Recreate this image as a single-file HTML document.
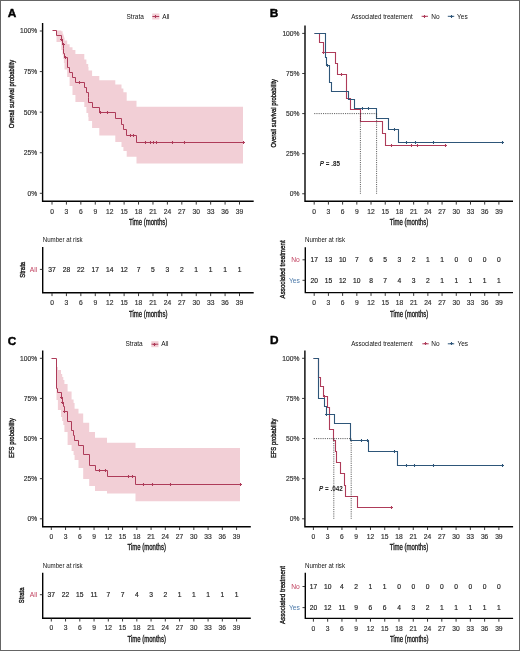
<!DOCTYPE html><html><head><meta charset="utf-8"><style>html,body{margin:0;padding:0;background:#fff;}svg{display:block;}text{font-family:"Liberation Sans", sans-serif;} .g{opacity:0.995} .t{stroke:#333;stroke-width:0.18}</style></head><body>
<svg width="520" height="651" viewBox="0 0 520 651">
<rect x="0" y="0" width="520" height="651" fill="#fff"/>
<g class="g">
<path d="M52,30.5 V30.5 H56.5 V30.5 H61.3 V31.2 H62.6 V33.8 H63.3 V35.5 H63.9 V37.6 H64.5 V40.5 H67.2 V44.3 H69.6 V47.2 H72.5 V50.1 H75.4 V54 H84.3 V59.5 H86.4 V64 H88.2 V67 H88.5 V70.5 H92.1 V75.9 H99.3 V80.2 H115.3 V84.6 H121.5 V88.5 H123.4 V92.3 H126.7 V100.8 H136.5 V106.8 H243 V163.4 H136.5 V156.8 H126.7 V151 H123.4 V147 H121.5 V142 H115.3 V135.5 H99.3 V128 H92.1 V121 H88.5 V117 H88.2 V113 H86.4 V107 H84.3 V102 H75.4 V95 H72.5 V86 H69.6 V77 H67.2 V69.5 H64.5 V63 H63.9 V59 H63.3 V55 H62.6 V50 H61.3 V42 H56.5 V30.5 H52 Z" fill="#F2CFD6" stroke="none"/>
<path d="M52.5,30.5 H56.5 V35.5 H61.5 V39.5 H62.5 V44.5 H63.5 V48.5 H63.5 V53.5 H64.5 V57.5 H67.5 V67.5 H69.5 V72.5 H72.5 V77.5 H75.5 V82.5 H84.5 V87.5 H86.5 V92.5 H88.5 V97.5 H88.5 V102.5 H92.5 V107.5 H99.5 V112.5 H115.5 V118.5 H121.5 V124.5 H123.5 V129.5 H126.5 V135.5 H136.5 V142.5 H243.5" stroke="#AE3A58" stroke-width="1" fill="none"/>
<path d="M60,39.5 h3 M61.5,38 v3" stroke="#AE3A58" stroke-width="1.05" fill="none"/>
<path d="M62,44.5 h3 M63.5,43 v3" stroke="#AE3A58" stroke-width="1.05" fill="none"/>
<path d="M64,57.5 h3 M65.5,56 v3" stroke="#AE3A58" stroke-width="1.05" fill="none"/>
<path d="M78,82.5 h3 M79.5,81 v3" stroke="#AE3A58" stroke-width="1.05" fill="none"/>
<path d="M99,112.5 h3 M100.5,111 v3" stroke="#AE3A58" stroke-width="1.05" fill="none"/>
<path d="M106,112.5 h3 M107.5,111 v3" stroke="#AE3A58" stroke-width="1.05" fill="none"/>
<path d="M129,135.5 h3 M130.5,134 v3" stroke="#AE3A58" stroke-width="1.05" fill="none"/>
<path d="M132,135.5 h3 M133.5,134 v3" stroke="#AE3A58" stroke-width="1.05" fill="none"/>
<path d="M144,142.5 h3 M145.5,141 v3" stroke="#AE3A58" stroke-width="1.05" fill="none"/>
<path d="M149,142.5 h3 M150.5,141 v3" stroke="#AE3A58" stroke-width="1.05" fill="none"/>
<path d="M152,142.5 h3 M153.5,141 v3" stroke="#AE3A58" stroke-width="1.05" fill="none"/>
<path d="M155,142.5 h3 M156.5,141 v3" stroke="#AE3A58" stroke-width="1.05" fill="none"/>
<path d="M171,142.5 h3 M172.5,141 v3" stroke="#AE3A58" stroke-width="1.05" fill="none"/>
<path d="M183,142.5 h3 M184.5,141 v3" stroke="#AE3A58" stroke-width="1.05" fill="none"/>
<path d="M242,142.5 h3 M243.5,141 v3" stroke="#AE3A58" stroke-width="1.05" fill="none"/>
<path d="M42.6,23 V201.3 H253.7" stroke="#000" stroke-width="1.4" fill="none"/>
<path d="M52,201.3 v3.3" stroke="#222" stroke-width="0.9"/>
<text x="52" y="213.9" font-size="6.7" fill="#333" text-anchor="middle" font-weight="normal" class="t">0</text>
<path d="M66.42,201.3 v3.3" stroke="#222" stroke-width="0.9"/>
<text x="66.42" y="213.9" font-size="6.7" fill="#333" text-anchor="middle" font-weight="normal" class="t">3</text>
<path d="M80.85,201.3 v3.3" stroke="#222" stroke-width="0.9"/>
<text x="80.85" y="213.9" font-size="6.7" fill="#333" text-anchor="middle" font-weight="normal" class="t">6</text>
<path d="M95.27,201.3 v3.3" stroke="#222" stroke-width="0.9"/>
<text x="95.27" y="213.9" font-size="6.7" fill="#333" text-anchor="middle" font-weight="normal" class="t">9</text>
<path d="M109.7,201.3 v3.3" stroke="#222" stroke-width="0.9"/>
<text x="109.7" y="213.9" font-size="6.7" fill="#333" text-anchor="middle" font-weight="normal" class="t">12</text>
<path d="M124.12,201.3 v3.3" stroke="#222" stroke-width="0.9"/>
<text x="124.12" y="213.9" font-size="6.7" fill="#333" text-anchor="middle" font-weight="normal" class="t">15</text>
<path d="M138.54,201.3 v3.3" stroke="#222" stroke-width="0.9"/>
<text x="138.54" y="213.9" font-size="6.7" fill="#333" text-anchor="middle" font-weight="normal" class="t">18</text>
<path d="M152.97,201.3 v3.3" stroke="#222" stroke-width="0.9"/>
<text x="152.97" y="213.9" font-size="6.7" fill="#333" text-anchor="middle" font-weight="normal" class="t">21</text>
<path d="M167.39,201.3 v3.3" stroke="#222" stroke-width="0.9"/>
<text x="167.39" y="213.9" font-size="6.7" fill="#333" text-anchor="middle" font-weight="normal" class="t">24</text>
<path d="M181.82,201.3 v3.3" stroke="#222" stroke-width="0.9"/>
<text x="181.82" y="213.9" font-size="6.7" fill="#333" text-anchor="middle" font-weight="normal" class="t">27</text>
<path d="M196.24,201.3 v3.3" stroke="#222" stroke-width="0.9"/>
<text x="196.24" y="213.9" font-size="6.7" fill="#333" text-anchor="middle" font-weight="normal" class="t">30</text>
<path d="M210.66,201.3 v3.3" stroke="#222" stroke-width="0.9"/>
<text x="210.66" y="213.9" font-size="6.7" fill="#333" text-anchor="middle" font-weight="normal" class="t">33</text>
<path d="M225.09,201.3 v3.3" stroke="#222" stroke-width="0.9"/>
<text x="225.09" y="213.9" font-size="6.7" fill="#333" text-anchor="middle" font-weight="normal" class="t">36</text>
<path d="M239.51,201.3 v3.3" stroke="#222" stroke-width="0.9"/>
<text x="239.51" y="213.9" font-size="6.7" fill="#333" text-anchor="middle" font-weight="normal" class="t">39</text>
<path d="M42.6,193.3 h-2.8" stroke="#222" stroke-width="0.9"/>
<text x="37.1" y="195.7" font-size="6.7" fill="#333" text-anchor="end" font-weight="normal" class="t">0%</text>
<path d="M42.6,152.73 h-2.8" stroke="#222" stroke-width="0.9"/>
<text x="37.1" y="155.13" font-size="6.7" fill="#333" text-anchor="end" font-weight="normal" class="t">25%</text>
<path d="M42.6,112.15 h-2.8" stroke="#222" stroke-width="0.9"/>
<text x="37.1" y="114.55" font-size="6.7" fill="#333" text-anchor="end" font-weight="normal" class="t">50%</text>
<path d="M42.6,71.58 h-2.8" stroke="#222" stroke-width="0.9"/>
<text x="37.1" y="73.98" font-size="6.7" fill="#333" text-anchor="end" font-weight="normal" class="t">75%</text>
<path d="M42.6,31 h-2.8" stroke="#222" stroke-width="0.9"/>
<text x="37.1" y="33.4" font-size="6.7" fill="#333" text-anchor="end" font-weight="normal" class="t">100%</text>
<text x="148.15" y="225.2" font-size="8.4" fill="#222" text-anchor="middle" font-weight="normal" textLength="38.4" lengthAdjust="spacingAndGlyphs" stroke="#1a1a1a" stroke-width="0.36">Time (months)</text>
<text x="0" y="0" font-size="8" fill="#1a1a1a" stroke="#1a1a1a" stroke-width="0.38" text-anchor="middle" font-weight="normal" textLength="68.3" lengthAdjust="spacingAndGlyphs" transform="translate(14.1,94) rotate(-90)">Overall survival probability</text>
<text x="7.8" y="17" font-size="11.8" fill="#000" text-anchor="start" font-weight="bold" stroke="#000" stroke-width="0.45">A</text>
<text x="126.5" y="18.9" font-size="6.5" fill="#111" text-anchor="start" font-weight="normal">Strata</text>
<rect x="152.2" y="13.5" width="7.2" height="6" fill="#F2CFD6"/>
<path d="M152.4,16.5 h6.8" stroke="#AE3A58" stroke-width="1"/>
<path d="M154,16.5 h3 M155.5,15 v3" stroke="#AE3A58" stroke-width="1.05" fill="none"/>
<text x="162.3" y="18.9" font-size="6.5" fill="#111" text-anchor="start" font-weight="normal">All</text>
<path d="M42.7,247 V292.8 H253.7" stroke="#000" stroke-width="1.4" fill="none"/>
<path d="M52,292.8 v3.3" stroke="#222" stroke-width="0.9"/>
<text x="52" y="305.2" font-size="6.7" fill="#333" text-anchor="middle" font-weight="normal" class="t">0</text>
<path d="M66.42,292.8 v3.3" stroke="#222" stroke-width="0.9"/>
<text x="66.42" y="305.2" font-size="6.7" fill="#333" text-anchor="middle" font-weight="normal" class="t">3</text>
<path d="M80.85,292.8 v3.3" stroke="#222" stroke-width="0.9"/>
<text x="80.85" y="305.2" font-size="6.7" fill="#333" text-anchor="middle" font-weight="normal" class="t">6</text>
<path d="M95.27,292.8 v3.3" stroke="#222" stroke-width="0.9"/>
<text x="95.27" y="305.2" font-size="6.7" fill="#333" text-anchor="middle" font-weight="normal" class="t">9</text>
<path d="M109.7,292.8 v3.3" stroke="#222" stroke-width="0.9"/>
<text x="109.7" y="305.2" font-size="6.7" fill="#333" text-anchor="middle" font-weight="normal" class="t">12</text>
<path d="M124.12,292.8 v3.3" stroke="#222" stroke-width="0.9"/>
<text x="124.12" y="305.2" font-size="6.7" fill="#333" text-anchor="middle" font-weight="normal" class="t">15</text>
<path d="M138.54,292.8 v3.3" stroke="#222" stroke-width="0.9"/>
<text x="138.54" y="305.2" font-size="6.7" fill="#333" text-anchor="middle" font-weight="normal" class="t">18</text>
<path d="M152.97,292.8 v3.3" stroke="#222" stroke-width="0.9"/>
<text x="152.97" y="305.2" font-size="6.7" fill="#333" text-anchor="middle" font-weight="normal" class="t">21</text>
<path d="M167.39,292.8 v3.3" stroke="#222" stroke-width="0.9"/>
<text x="167.39" y="305.2" font-size="6.7" fill="#333" text-anchor="middle" font-weight="normal" class="t">24</text>
<path d="M181.82,292.8 v3.3" stroke="#222" stroke-width="0.9"/>
<text x="181.82" y="305.2" font-size="6.7" fill="#333" text-anchor="middle" font-weight="normal" class="t">27</text>
<path d="M196.24,292.8 v3.3" stroke="#222" stroke-width="0.9"/>
<text x="196.24" y="305.2" font-size="6.7" fill="#333" text-anchor="middle" font-weight="normal" class="t">30</text>
<path d="M210.66,292.8 v3.3" stroke="#222" stroke-width="0.9"/>
<text x="210.66" y="305.2" font-size="6.7" fill="#333" text-anchor="middle" font-weight="normal" class="t">33</text>
<path d="M225.09,292.8 v3.3" stroke="#222" stroke-width="0.9"/>
<text x="225.09" y="305.2" font-size="6.7" fill="#333" text-anchor="middle" font-weight="normal" class="t">36</text>
<path d="M239.51,292.8 v3.3" stroke="#222" stroke-width="0.9"/>
<text x="239.51" y="305.2" font-size="6.7" fill="#333" text-anchor="middle" font-weight="normal" class="t">39</text>
<path d="M42.7,269.4 h-2.8" stroke="#222" stroke-width="0.9"/>
<text x="37.2" y="271.8" font-size="6.7" fill="#C0405E" text-anchor="end" font-weight="normal">All</text>
<text x="52" y="271.8" font-size="6.7" fill="#111" text-anchor="middle" font-weight="normal" class="t">37</text>
<text x="66.42" y="271.8" font-size="6.7" fill="#111" text-anchor="middle" font-weight="normal" class="t">28</text>
<text x="80.85" y="271.8" font-size="6.7" fill="#111" text-anchor="middle" font-weight="normal" class="t">22</text>
<text x="95.27" y="271.8" font-size="6.7" fill="#111" text-anchor="middle" font-weight="normal" class="t">17</text>
<text x="109.7" y="271.8" font-size="6.7" fill="#111" text-anchor="middle" font-weight="normal" class="t">14</text>
<text x="124.12" y="271.8" font-size="6.7" fill="#111" text-anchor="middle" font-weight="normal" class="t">12</text>
<text x="138.54" y="271.8" font-size="6.7" fill="#111" text-anchor="middle" font-weight="normal" class="t">7</text>
<text x="152.97" y="271.8" font-size="6.7" fill="#111" text-anchor="middle" font-weight="normal" class="t">5</text>
<text x="167.39" y="271.8" font-size="6.7" fill="#111" text-anchor="middle" font-weight="normal" class="t">3</text>
<text x="181.82" y="271.8" font-size="6.7" fill="#111" text-anchor="middle" font-weight="normal" class="t">2</text>
<text x="196.24" y="271.8" font-size="6.7" fill="#111" text-anchor="middle" font-weight="normal" class="t">1</text>
<text x="210.66" y="271.8" font-size="6.7" fill="#111" text-anchor="middle" font-weight="normal" class="t">1</text>
<text x="225.09" y="271.8" font-size="6.7" fill="#111" text-anchor="middle" font-weight="normal" class="t">1</text>
<text x="239.51" y="271.8" font-size="6.7" fill="#111" text-anchor="middle" font-weight="normal" class="t">1</text>
<text x="42.7" y="242" font-size="6.5" fill="#111" text-anchor="start" font-weight="normal" textLength="40" lengthAdjust="spacingAndGlyphs">Number at risk</text>
<text x="148.2" y="316.5" font-size="8.4" fill="#222" text-anchor="middle" font-weight="normal" textLength="38.4" lengthAdjust="spacingAndGlyphs" stroke="#1a1a1a" stroke-width="0.36">Time (months)</text>
<text x="0" y="0" font-size="8" fill="#1a1a1a" stroke="#1a1a1a" stroke-width="0.38" text-anchor="middle" font-weight="normal" textLength="16" lengthAdjust="spacingAndGlyphs" transform="translate(24.5,269.8) rotate(-90)">Strata</text>
<path d="M314.5,33.5 H319.5 V42.5 H323.5 V52.5 H335.5 V63.5 H337.5 V74.5 H346.5 V98.5 H350.5 V109.5 H360.5 V121.5 H382.5 V133.5 H385.5 V145.5 H445.5" stroke="#AE3A58" stroke-width="1.1" fill="none"/>
<path d="M314.5,33.5 H325.5 V49.5 H325.5 V57.5 H326.5 V65.5 H329.5 V82.5 H331.5 V91.5 H348.5 V99.5 H354.5 V108.5 H376.5 V118.5 H388.5 V129.5 H398.5 V142.5 H502.5" stroke="#2D5578" stroke-width="1.1" fill="none"/>
<path d="M314.2,113.6 H376.6 M360.4,113.6 V193.75 M376.6,113.6 V193.75" stroke="#333" stroke-width="0.8" stroke-dasharray="1.1,1.1" fill="none"/>
<path d="M322,52.5 h3 M323.5,51 v3" stroke="#AE3A58" stroke-width="1.05" fill="none"/>
<path d="M340,74.5 h3 M341.5,73 v3" stroke="#AE3A58" stroke-width="1.05" fill="none"/>
<path d="M390,145.5 h3 M391.5,144 v3" stroke="#AE3A58" stroke-width="1.05" fill="none"/>
<path d="M410,145.5 h3 M411.5,144 v3" stroke="#AE3A58" stroke-width="1.05" fill="none"/>
<path d="M416,145.5 h3 M417.5,144 v3" stroke="#AE3A58" stroke-width="1.05" fill="none"/>
<path d="M444,145.5 h3 M445.5,144 v3" stroke="#AE3A58" stroke-width="1.05" fill="none"/>
<path d="M326,65.5 h3 M327.5,64 v3" stroke="#2D5578" stroke-width="1.05" fill="none"/>
<path d="M361,108.5 h3 M362.5,107 v3" stroke="#2D5578" stroke-width="1.05" fill="none"/>
<path d="M367,108.5 h3 M368.5,107 v3" stroke="#2D5578" stroke-width="1.05" fill="none"/>
<path d="M393,129.5 h3 M394.5,128 v3" stroke="#2D5578" stroke-width="1.05" fill="none"/>
<path d="M405,142.5 h3 M406.5,141 v3" stroke="#2D5578" stroke-width="1.05" fill="none"/>
<path d="M414,142.5 h3 M415.5,141 v3" stroke="#2D5578" stroke-width="1.05" fill="none"/>
<path d="M432,142.5 h3 M433.5,141 v3" stroke="#2D5578" stroke-width="1.05" fill="none"/>
<path d="M501,142.5 h3 M502.5,141 v3" stroke="#2D5578" stroke-width="1.05" fill="none"/>
<path d="M305,25.6 V201.3 H513" stroke="#000" stroke-width="1.4" fill="none"/>
<path d="M314.2,201.3 v3.3" stroke="#222" stroke-width="0.9"/>
<text x="314.2" y="213.9" font-size="6.7" fill="#333" text-anchor="middle" font-weight="normal" class="t">0</text>
<path d="M328.41,201.3 v3.3" stroke="#222" stroke-width="0.9"/>
<text x="328.41" y="213.9" font-size="6.7" fill="#333" text-anchor="middle" font-weight="normal" class="t">3</text>
<path d="M342.62,201.3 v3.3" stroke="#222" stroke-width="0.9"/>
<text x="342.62" y="213.9" font-size="6.7" fill="#333" text-anchor="middle" font-weight="normal" class="t">6</text>
<path d="M356.82,201.3 v3.3" stroke="#222" stroke-width="0.9"/>
<text x="356.82" y="213.9" font-size="6.7" fill="#333" text-anchor="middle" font-weight="normal" class="t">9</text>
<path d="M371.03,201.3 v3.3" stroke="#222" stroke-width="0.9"/>
<text x="371.03" y="213.9" font-size="6.7" fill="#333" text-anchor="middle" font-weight="normal" class="t">12</text>
<path d="M385.24,201.3 v3.3" stroke="#222" stroke-width="0.9"/>
<text x="385.24" y="213.9" font-size="6.7" fill="#333" text-anchor="middle" font-weight="normal" class="t">15</text>
<path d="M399.45,201.3 v3.3" stroke="#222" stroke-width="0.9"/>
<text x="399.45" y="213.9" font-size="6.7" fill="#333" text-anchor="middle" font-weight="normal" class="t">18</text>
<path d="M413.66,201.3 v3.3" stroke="#222" stroke-width="0.9"/>
<text x="413.66" y="213.9" font-size="6.7" fill="#333" text-anchor="middle" font-weight="normal" class="t">21</text>
<path d="M427.86,201.3 v3.3" stroke="#222" stroke-width="0.9"/>
<text x="427.86" y="213.9" font-size="6.7" fill="#333" text-anchor="middle" font-weight="normal" class="t">24</text>
<path d="M442.07,201.3 v3.3" stroke="#222" stroke-width="0.9"/>
<text x="442.07" y="213.9" font-size="6.7" fill="#333" text-anchor="middle" font-weight="normal" class="t">27</text>
<path d="M456.28,201.3 v3.3" stroke="#222" stroke-width="0.9"/>
<text x="456.28" y="213.9" font-size="6.7" fill="#333" text-anchor="middle" font-weight="normal" class="t">30</text>
<path d="M470.49,201.3 v3.3" stroke="#222" stroke-width="0.9"/>
<text x="470.49" y="213.9" font-size="6.7" fill="#333" text-anchor="middle" font-weight="normal" class="t">33</text>
<path d="M484.7,201.3 v3.3" stroke="#222" stroke-width="0.9"/>
<text x="484.7" y="213.9" font-size="6.7" fill="#333" text-anchor="middle" font-weight="normal" class="t">36</text>
<path d="M498.9,201.3 v3.3" stroke="#222" stroke-width="0.9"/>
<text x="498.9" y="213.9" font-size="6.7" fill="#333" text-anchor="middle" font-weight="normal" class="t">39</text>
<path d="M305,193.75 h-2.8" stroke="#222" stroke-width="0.9"/>
<text x="299.5" y="196.15" font-size="6.7" fill="#333" text-anchor="end" font-weight="normal" class="t">0%</text>
<path d="M305,153.66 h-2.8" stroke="#222" stroke-width="0.9"/>
<text x="299.5" y="156.06" font-size="6.7" fill="#333" text-anchor="end" font-weight="normal" class="t">25%</text>
<path d="M305,113.58 h-2.8" stroke="#222" stroke-width="0.9"/>
<text x="299.5" y="115.98" font-size="6.7" fill="#333" text-anchor="end" font-weight="normal" class="t">50%</text>
<path d="M305,73.49 h-2.8" stroke="#222" stroke-width="0.9"/>
<text x="299.5" y="75.89" font-size="6.7" fill="#333" text-anchor="end" font-weight="normal" class="t">75%</text>
<path d="M305,33.4 h-2.8" stroke="#222" stroke-width="0.9"/>
<text x="299.5" y="35.8" font-size="6.7" fill="#333" text-anchor="end" font-weight="normal" class="t">100%</text>
<text x="409" y="225.2" font-size="8.4" fill="#222" text-anchor="middle" font-weight="normal" textLength="38.4" lengthAdjust="spacingAndGlyphs" stroke="#1a1a1a" stroke-width="0.36">Time (months)</text>
<text x="0" y="0" font-size="8" fill="#1a1a1a" stroke="#1a1a1a" stroke-width="0.38" text-anchor="middle" font-weight="normal" textLength="68.5" lengthAdjust="spacingAndGlyphs" transform="translate(276.4,113.25) rotate(-90)">Overall survival probability</text>
<text x="269.8" y="17.3" font-size="11.8" fill="#000" text-anchor="start" font-weight="bold" stroke="#000" stroke-width="0.45">B</text>
<text x="351.2" y="18.5" font-size="6.5" fill="#111" text-anchor="start" font-weight="normal" textLength="61.5" lengthAdjust="spacingAndGlyphs">Associated treatement</text>
<path d="M421.6,16.3 h6.4" stroke="#AE3A58" stroke-width="1"/>
<path d="M423,16.5 h3 M424.5,15 v3" stroke="#AE3A58" stroke-width="1.05" fill="none"/>
<text x="431.2" y="18.5" font-size="6.5" fill="#111" text-anchor="start" font-weight="normal">No</text>
<path d="M447.8,16.3 h6.4" stroke="#2D5578" stroke-width="1"/>
<path d="M450,16.5 h3 M451.5,15 v3" stroke="#2D5578" stroke-width="1.05" fill="none"/>
<text x="457.1" y="18.5" font-size="6.5" fill="#111" text-anchor="start" font-weight="normal">Yes</text>
<text x="319.8" y="165.6" font-size="6.3" fill="#222" text-anchor="start" font-weight="bold"><tspan font-style="italic">P</tspan> = .85</text>
<path d="M305.3,247.2 V292.6 H513" stroke="#000" stroke-width="1.4" fill="none"/>
<path d="M314.2,292.6 v3.3" stroke="#222" stroke-width="0.9"/>
<text x="314.2" y="304.6" font-size="6.7" fill="#333" text-anchor="middle" font-weight="normal" class="t">0</text>
<path d="M328.41,292.6 v3.3" stroke="#222" stroke-width="0.9"/>
<text x="328.41" y="304.6" font-size="6.7" fill="#333" text-anchor="middle" font-weight="normal" class="t">3</text>
<path d="M342.62,292.6 v3.3" stroke="#222" stroke-width="0.9"/>
<text x="342.62" y="304.6" font-size="6.7" fill="#333" text-anchor="middle" font-weight="normal" class="t">6</text>
<path d="M356.82,292.6 v3.3" stroke="#222" stroke-width="0.9"/>
<text x="356.82" y="304.6" font-size="6.7" fill="#333" text-anchor="middle" font-weight="normal" class="t">9</text>
<path d="M371.03,292.6 v3.3" stroke="#222" stroke-width="0.9"/>
<text x="371.03" y="304.6" font-size="6.7" fill="#333" text-anchor="middle" font-weight="normal" class="t">12</text>
<path d="M385.24,292.6 v3.3" stroke="#222" stroke-width="0.9"/>
<text x="385.24" y="304.6" font-size="6.7" fill="#333" text-anchor="middle" font-weight="normal" class="t">15</text>
<path d="M399.45,292.6 v3.3" stroke="#222" stroke-width="0.9"/>
<text x="399.45" y="304.6" font-size="6.7" fill="#333" text-anchor="middle" font-weight="normal" class="t">18</text>
<path d="M413.66,292.6 v3.3" stroke="#222" stroke-width="0.9"/>
<text x="413.66" y="304.6" font-size="6.7" fill="#333" text-anchor="middle" font-weight="normal" class="t">21</text>
<path d="M427.86,292.6 v3.3" stroke="#222" stroke-width="0.9"/>
<text x="427.86" y="304.6" font-size="6.7" fill="#333" text-anchor="middle" font-weight="normal" class="t">24</text>
<path d="M442.07,292.6 v3.3" stroke="#222" stroke-width="0.9"/>
<text x="442.07" y="304.6" font-size="6.7" fill="#333" text-anchor="middle" font-weight="normal" class="t">27</text>
<path d="M456.28,292.6 v3.3" stroke="#222" stroke-width="0.9"/>
<text x="456.28" y="304.6" font-size="6.7" fill="#333" text-anchor="middle" font-weight="normal" class="t">30</text>
<path d="M470.49,292.6 v3.3" stroke="#222" stroke-width="0.9"/>
<text x="470.49" y="304.6" font-size="6.7" fill="#333" text-anchor="middle" font-weight="normal" class="t">33</text>
<path d="M484.7,292.6 v3.3" stroke="#222" stroke-width="0.9"/>
<text x="484.7" y="304.6" font-size="6.7" fill="#333" text-anchor="middle" font-weight="normal" class="t">36</text>
<path d="M498.9,292.6 v3.3" stroke="#222" stroke-width="0.9"/>
<text x="498.9" y="304.6" font-size="6.7" fill="#333" text-anchor="middle" font-weight="normal" class="t">39</text>
<path d="M305.3,259.8 h-2.8" stroke="#222" stroke-width="0.9"/>
<text x="299.8" y="262.2" font-size="6.7" fill="#C0405E" text-anchor="end" font-weight="normal">No</text>
<text x="314.2" y="262.2" font-size="6.7" fill="#111" text-anchor="middle" font-weight="normal" class="t">17</text>
<text x="328.41" y="262.2" font-size="6.7" fill="#111" text-anchor="middle" font-weight="normal" class="t">13</text>
<text x="342.62" y="262.2" font-size="6.7" fill="#111" text-anchor="middle" font-weight="normal" class="t">10</text>
<text x="356.82" y="262.2" font-size="6.7" fill="#111" text-anchor="middle" font-weight="normal" class="t">7</text>
<text x="371.03" y="262.2" font-size="6.7" fill="#111" text-anchor="middle" font-weight="normal" class="t">6</text>
<text x="385.24" y="262.2" font-size="6.7" fill="#111" text-anchor="middle" font-weight="normal" class="t">5</text>
<text x="399.45" y="262.2" font-size="6.7" fill="#111" text-anchor="middle" font-weight="normal" class="t">3</text>
<text x="413.66" y="262.2" font-size="6.7" fill="#111" text-anchor="middle" font-weight="normal" class="t">2</text>
<text x="427.86" y="262.2" font-size="6.7" fill="#111" text-anchor="middle" font-weight="normal" class="t">1</text>
<text x="442.07" y="262.2" font-size="6.7" fill="#111" text-anchor="middle" font-weight="normal" class="t">1</text>
<text x="456.28" y="262.2" font-size="6.7" fill="#111" text-anchor="middle" font-weight="normal" class="t">0</text>
<text x="470.49" y="262.2" font-size="6.7" fill="#111" text-anchor="middle" font-weight="normal" class="t">0</text>
<text x="484.7" y="262.2" font-size="6.7" fill="#111" text-anchor="middle" font-weight="normal" class="t">0</text>
<text x="498.9" y="262.2" font-size="6.7" fill="#111" text-anchor="middle" font-weight="normal" class="t">0</text>
<path d="M305.3,280.3 h-2.8" stroke="#222" stroke-width="0.9"/>
<text x="299.8" y="282.7" font-size="6.7" fill="#4A78A8" text-anchor="end" font-weight="normal">Yes</text>
<text x="314.2" y="282.7" font-size="6.7" fill="#111" text-anchor="middle" font-weight="normal" class="t">20</text>
<text x="328.41" y="282.7" font-size="6.7" fill="#111" text-anchor="middle" font-weight="normal" class="t">15</text>
<text x="342.62" y="282.7" font-size="6.7" fill="#111" text-anchor="middle" font-weight="normal" class="t">12</text>
<text x="356.82" y="282.7" font-size="6.7" fill="#111" text-anchor="middle" font-weight="normal" class="t">10</text>
<text x="371.03" y="282.7" font-size="6.7" fill="#111" text-anchor="middle" font-weight="normal" class="t">8</text>
<text x="385.24" y="282.7" font-size="6.7" fill="#111" text-anchor="middle" font-weight="normal" class="t">7</text>
<text x="399.45" y="282.7" font-size="6.7" fill="#111" text-anchor="middle" font-weight="normal" class="t">4</text>
<text x="413.66" y="282.7" font-size="6.7" fill="#111" text-anchor="middle" font-weight="normal" class="t">3</text>
<text x="427.86" y="282.7" font-size="6.7" fill="#111" text-anchor="middle" font-weight="normal" class="t">2</text>
<text x="442.07" y="282.7" font-size="6.7" fill="#111" text-anchor="middle" font-weight="normal" class="t">1</text>
<text x="456.28" y="282.7" font-size="6.7" fill="#111" text-anchor="middle" font-weight="normal" class="t">1</text>
<text x="470.49" y="282.7" font-size="6.7" fill="#111" text-anchor="middle" font-weight="normal" class="t">1</text>
<text x="484.7" y="282.7" font-size="6.7" fill="#111" text-anchor="middle" font-weight="normal" class="t">1</text>
<text x="498.9" y="282.7" font-size="6.7" fill="#111" text-anchor="middle" font-weight="normal" class="t">1</text>
<text x="305" y="242.3" font-size="6.5" fill="#111" text-anchor="start" font-weight="normal" textLength="40" lengthAdjust="spacingAndGlyphs">Number at risk</text>
<text x="409.15" y="316.5" font-size="8.4" fill="#222" text-anchor="middle" font-weight="normal" textLength="38.4" lengthAdjust="spacingAndGlyphs" stroke="#1a1a1a" stroke-width="0.36">Time (months)</text>
<text x="0" y="0" font-size="8" fill="#1a1a1a" stroke="#1a1a1a" stroke-width="0.38" text-anchor="middle" font-weight="normal" textLength="58" lengthAdjust="spacingAndGlyphs" transform="translate(284.5,269.4) rotate(-90)">Associated treatment</text>
<path d="M51.4,358.3 V358.3 H56.5 V367 H57.9 V370 H61 V374 H62.2 V377 H63.3 V380 H64.4 V384 H67.6 V391.5 H71.6 V399.6 H73.6 V403 H74.6 V408.8 H78.5 V413.5 H83.2 V422.7 H89.2 V431.9 H95 V437.7 H107 V442.8 H135.5 V448 H240 V501.3 H135.5 V493.5 H107 V491 H95 V486 H89.2 V479 H83.2 V468 H78.5 V460 H74.6 V455 H73.6 V451 H71.6 V445 H67.6 V432 H64.4 V425 H63.3 V421 H62.2 V417 H61 V410 H57.9 V400 H56.5 V358.3 H51.4 Z" fill="#F2CFD6" stroke="none"/>
<path d="M51.5,358.5 H56.5 V388.5 H57.5 V392.5 H61.5 V397.5 H62.5 V402.5 H63.5 V406.5 H64.5 V411.5 H67.5 V421.5 H71.5 V430.5 H73.5 V435.5 H74.5 V440.5 H78.5 V445.5 H83.5 V454.5 H89.5 V465.5 H95.5 V470.5 H107.5 V476.5 H135.5 V484.5 H240.5" stroke="#AE3A58" stroke-width="1" fill="none"/>
<path d="M60,397.5 h3 M61.5,396 v3" stroke="#AE3A58" stroke-width="1.05" fill="none"/>
<path d="M61,402.5 h3 M62.5,401 v3" stroke="#AE3A58" stroke-width="1.05" fill="none"/>
<path d="M63,411.5 h3 M64.5,410 v3" stroke="#AE3A58" stroke-width="1.05" fill="none"/>
<path d="M98,470.5 h3 M99.5,469 v3" stroke="#AE3A58" stroke-width="1.05" fill="none"/>
<path d="M104,470.5 h3 M105.5,469 v3" stroke="#AE3A58" stroke-width="1.05" fill="none"/>
<path d="M127,476.5 h3 M128.5,475 v3" stroke="#AE3A58" stroke-width="1.05" fill="none"/>
<path d="M131,476.5 h3 M132.5,475 v3" stroke="#AE3A58" stroke-width="1.05" fill="none"/>
<path d="M142,484.5 h3 M143.5,483 v3" stroke="#AE3A58" stroke-width="1.05" fill="none"/>
<path d="M151,484.5 h3 M152.5,483 v3" stroke="#AE3A58" stroke-width="1.05" fill="none"/>
<path d="M169,484.5 h3 M170.5,483 v3" stroke="#AE3A58" stroke-width="1.05" fill="none"/>
<path d="M239,484.5 h3 M240.5,483 v3" stroke="#AE3A58" stroke-width="1.05" fill="none"/>
<path d="M42.7,350.5 V526.7 H250.8" stroke="#000" stroke-width="1.4" fill="none"/>
<path d="M51.3,526.7 v3.3" stroke="#222" stroke-width="0.9"/>
<text x="51.3" y="538.6" font-size="6.7" fill="#333" text-anchor="middle" font-weight="normal" class="t">0</text>
<path d="M65.55,526.7 v3.3" stroke="#222" stroke-width="0.9"/>
<text x="65.55" y="538.6" font-size="6.7" fill="#333" text-anchor="middle" font-weight="normal" class="t">3</text>
<path d="M79.81,526.7 v3.3" stroke="#222" stroke-width="0.9"/>
<text x="79.81" y="538.6" font-size="6.7" fill="#333" text-anchor="middle" font-weight="normal" class="t">6</text>
<path d="M94.06,526.7 v3.3" stroke="#222" stroke-width="0.9"/>
<text x="94.06" y="538.6" font-size="6.7" fill="#333" text-anchor="middle" font-weight="normal" class="t">9</text>
<path d="M108.31,526.7 v3.3" stroke="#222" stroke-width="0.9"/>
<text x="108.31" y="538.6" font-size="6.7" fill="#333" text-anchor="middle" font-weight="normal" class="t">12</text>
<path d="M122.56,526.7 v3.3" stroke="#222" stroke-width="0.9"/>
<text x="122.56" y="538.6" font-size="6.7" fill="#333" text-anchor="middle" font-weight="normal" class="t">15</text>
<path d="M136.82,526.7 v3.3" stroke="#222" stroke-width="0.9"/>
<text x="136.82" y="538.6" font-size="6.7" fill="#333" text-anchor="middle" font-weight="normal" class="t">18</text>
<path d="M151.07,526.7 v3.3" stroke="#222" stroke-width="0.9"/>
<text x="151.07" y="538.6" font-size="6.7" fill="#333" text-anchor="middle" font-weight="normal" class="t">21</text>
<path d="M165.32,526.7 v3.3" stroke="#222" stroke-width="0.9"/>
<text x="165.32" y="538.6" font-size="6.7" fill="#333" text-anchor="middle" font-weight="normal" class="t">24</text>
<path d="M179.58,526.7 v3.3" stroke="#222" stroke-width="0.9"/>
<text x="179.58" y="538.6" font-size="6.7" fill="#333" text-anchor="middle" font-weight="normal" class="t">27</text>
<path d="M193.83,526.7 v3.3" stroke="#222" stroke-width="0.9"/>
<text x="193.83" y="538.6" font-size="6.7" fill="#333" text-anchor="middle" font-weight="normal" class="t">30</text>
<path d="M208.08,526.7 v3.3" stroke="#222" stroke-width="0.9"/>
<text x="208.08" y="538.6" font-size="6.7" fill="#333" text-anchor="middle" font-weight="normal" class="t">33</text>
<path d="M222.34,526.7 v3.3" stroke="#222" stroke-width="0.9"/>
<text x="222.34" y="538.6" font-size="6.7" fill="#333" text-anchor="middle" font-weight="normal" class="t">36</text>
<path d="M236.59,526.7 v3.3" stroke="#222" stroke-width="0.9"/>
<text x="236.59" y="538.6" font-size="6.7" fill="#333" text-anchor="middle" font-weight="normal" class="t">39</text>
<path d="M42.7,518.8 h-2.8" stroke="#222" stroke-width="0.9"/>
<text x="37.2" y="521.2" font-size="6.7" fill="#333" text-anchor="end" font-weight="normal" class="t">0%</text>
<path d="M42.7,478.67 h-2.8" stroke="#222" stroke-width="0.9"/>
<text x="37.2" y="481.07" font-size="6.7" fill="#333" text-anchor="end" font-weight="normal" class="t">25%</text>
<path d="M42.7,438.55 h-2.8" stroke="#222" stroke-width="0.9"/>
<text x="37.2" y="440.95" font-size="6.7" fill="#333" text-anchor="end" font-weight="normal" class="t">50%</text>
<path d="M42.7,398.43 h-2.8" stroke="#222" stroke-width="0.9"/>
<text x="37.2" y="400.82" font-size="6.7" fill="#333" text-anchor="end" font-weight="normal" class="t">75%</text>
<path d="M42.7,358.3 h-2.8" stroke="#222" stroke-width="0.9"/>
<text x="37.2" y="360.7" font-size="6.7" fill="#333" text-anchor="end" font-weight="normal" class="t">100%</text>
<text x="146.75" y="550.4" font-size="8.4" fill="#222" text-anchor="middle" font-weight="normal" textLength="38.4" lengthAdjust="spacingAndGlyphs" stroke="#1a1a1a" stroke-width="0.36">Time (months)</text>
<text x="0" y="0" font-size="8" fill="#1a1a1a" stroke="#1a1a1a" stroke-width="0.38" text-anchor="middle" font-weight="normal" textLength="39.8" lengthAdjust="spacingAndGlyphs" transform="translate(14,438) rotate(-90)">EFS probability</text>
<text x="7.8" y="344.5" font-size="11.8" fill="#000" text-anchor="start" font-weight="bold" stroke="#000" stroke-width="0.45">C</text>
<text x="125.4" y="346.3" font-size="6.5" fill="#111" text-anchor="start" font-weight="normal">Strata</text>
<rect x="151.3" y="341.2" width="7.2" height="6" fill="#F2CFD6"/>
<path d="M151.5,344.2 h6.8" stroke="#AE3A58" stroke-width="1"/>
<path d="M153,344.5 h3 M154.5,343 v3" stroke="#AE3A58" stroke-width="1.05" fill="none"/>
<text x="161.2" y="346.3" font-size="6.5" fill="#111" text-anchor="start" font-weight="normal">All</text>
<path d="M42.7,572.7 V618.2 H250.8" stroke="#000" stroke-width="1.4" fill="none"/>
<path d="M51.3,618.2 v3.3" stroke="#222" stroke-width="0.9"/>
<text x="51.3" y="629.6" font-size="6.7" fill="#333" text-anchor="middle" font-weight="normal" class="t">0</text>
<path d="M65.55,618.2 v3.3" stroke="#222" stroke-width="0.9"/>
<text x="65.55" y="629.6" font-size="6.7" fill="#333" text-anchor="middle" font-weight="normal" class="t">3</text>
<path d="M79.81,618.2 v3.3" stroke="#222" stroke-width="0.9"/>
<text x="79.81" y="629.6" font-size="6.7" fill="#333" text-anchor="middle" font-weight="normal" class="t">6</text>
<path d="M94.06,618.2 v3.3" stroke="#222" stroke-width="0.9"/>
<text x="94.06" y="629.6" font-size="6.7" fill="#333" text-anchor="middle" font-weight="normal" class="t">9</text>
<path d="M108.31,618.2 v3.3" stroke="#222" stroke-width="0.9"/>
<text x="108.31" y="629.6" font-size="6.7" fill="#333" text-anchor="middle" font-weight="normal" class="t">12</text>
<path d="M122.56,618.2 v3.3" stroke="#222" stroke-width="0.9"/>
<text x="122.56" y="629.6" font-size="6.7" fill="#333" text-anchor="middle" font-weight="normal" class="t">15</text>
<path d="M136.82,618.2 v3.3" stroke="#222" stroke-width="0.9"/>
<text x="136.82" y="629.6" font-size="6.7" fill="#333" text-anchor="middle" font-weight="normal" class="t">18</text>
<path d="M151.07,618.2 v3.3" stroke="#222" stroke-width="0.9"/>
<text x="151.07" y="629.6" font-size="6.7" fill="#333" text-anchor="middle" font-weight="normal" class="t">21</text>
<path d="M165.32,618.2 v3.3" stroke="#222" stroke-width="0.9"/>
<text x="165.32" y="629.6" font-size="6.7" fill="#333" text-anchor="middle" font-weight="normal" class="t">24</text>
<path d="M179.58,618.2 v3.3" stroke="#222" stroke-width="0.9"/>
<text x="179.58" y="629.6" font-size="6.7" fill="#333" text-anchor="middle" font-weight="normal" class="t">27</text>
<path d="M193.83,618.2 v3.3" stroke="#222" stroke-width="0.9"/>
<text x="193.83" y="629.6" font-size="6.7" fill="#333" text-anchor="middle" font-weight="normal" class="t">30</text>
<path d="M208.08,618.2 v3.3" stroke="#222" stroke-width="0.9"/>
<text x="208.08" y="629.6" font-size="6.7" fill="#333" text-anchor="middle" font-weight="normal" class="t">33</text>
<path d="M222.34,618.2 v3.3" stroke="#222" stroke-width="0.9"/>
<text x="222.34" y="629.6" font-size="6.7" fill="#333" text-anchor="middle" font-weight="normal" class="t">36</text>
<path d="M236.59,618.2 v3.3" stroke="#222" stroke-width="0.9"/>
<text x="236.59" y="629.6" font-size="6.7" fill="#333" text-anchor="middle" font-weight="normal" class="t">39</text>
<path d="M42.7,594.7 h-2.8" stroke="#222" stroke-width="0.9"/>
<text x="37.2" y="597.1" font-size="6.7" fill="#C0405E" text-anchor="end" font-weight="normal">All</text>
<text x="51.3" y="597.1" font-size="6.7" fill="#111" text-anchor="middle" font-weight="normal" class="t">37</text>
<text x="65.55" y="597.1" font-size="6.7" fill="#111" text-anchor="middle" font-weight="normal" class="t">22</text>
<text x="79.81" y="597.1" font-size="6.7" fill="#111" text-anchor="middle" font-weight="normal" class="t">15</text>
<text x="94.06" y="597.1" font-size="6.7" fill="#111" text-anchor="middle" font-weight="normal" class="t">11</text>
<text x="108.31" y="597.1" font-size="6.7" fill="#111" text-anchor="middle" font-weight="normal" class="t">7</text>
<text x="122.56" y="597.1" font-size="6.7" fill="#111" text-anchor="middle" font-weight="normal" class="t">7</text>
<text x="136.82" y="597.1" font-size="6.7" fill="#111" text-anchor="middle" font-weight="normal" class="t">4</text>
<text x="151.07" y="597.1" font-size="6.7" fill="#111" text-anchor="middle" font-weight="normal" class="t">3</text>
<text x="165.32" y="597.1" font-size="6.7" fill="#111" text-anchor="middle" font-weight="normal" class="t">2</text>
<text x="179.58" y="597.1" font-size="6.7" fill="#111" text-anchor="middle" font-weight="normal" class="t">1</text>
<text x="193.83" y="597.1" font-size="6.7" fill="#111" text-anchor="middle" font-weight="normal" class="t">1</text>
<text x="208.08" y="597.1" font-size="6.7" fill="#111" text-anchor="middle" font-weight="normal" class="t">1</text>
<text x="222.34" y="597.1" font-size="6.7" fill="#111" text-anchor="middle" font-weight="normal" class="t">1</text>
<text x="236.59" y="597.1" font-size="6.7" fill="#111" text-anchor="middle" font-weight="normal" class="t">1</text>
<text x="42.7" y="567.8" font-size="6.5" fill="#111" text-anchor="start" font-weight="normal" textLength="40" lengthAdjust="spacingAndGlyphs">Number at risk</text>
<text x="146.75" y="641.6" font-size="8.4" fill="#222" text-anchor="middle" font-weight="normal" textLength="38.4" lengthAdjust="spacingAndGlyphs" stroke="#1a1a1a" stroke-width="0.36">Time (months)</text>
<text x="0" y="0" font-size="8" fill="#1a1a1a" stroke="#1a1a1a" stroke-width="0.38" text-anchor="middle" font-weight="normal" textLength="15.6" lengthAdjust="spacingAndGlyphs" transform="translate(24.3,595.4) rotate(-90)">Strata</text>
<path d="M313.5,358.5 H318.5 V377.5 H320.5 V386.5 H323.5 V396.5 H327.5 V407.5 H329.5 V429.5 H333.5 V440.5 H335.5 V451.5 H336.5 V462.5 H340.5 V473.5 H344.5 V485.5 H345.5 V496.5 H357.5 V507.5 H391.5" stroke="#AE3A58" stroke-width="1.1" fill="none"/>
<path d="M313.5,358.5 H318.5 V398.5 H324.5 V406.5 H326.5 V414.5 H334.5 V423.5 H350.5 V440.5 H368.5 V451.5 H397.5 V465.5 H502.5" stroke="#2D5578" stroke-width="1.1" fill="none"/>
<path d="M313.8,438.6 H351.2 M333.8,438.6 V518.8 M351.2,438.6 V518.8" stroke="#333" stroke-width="0.8" stroke-dasharray="1.1,1.1" fill="none"/>
<path d="M323,396.5 h3 M324.5,395 v3" stroke="#AE3A58" stroke-width="1.05" fill="none"/>
<path d="M390,507.5 h3 M391.5,506 v3" stroke="#AE3A58" stroke-width="1.05" fill="none"/>
<path d="M325,414.5 h3 M326.5,413 v3" stroke="#2D5578" stroke-width="1.05" fill="none"/>
<path d="M360,440.5 h3 M361.5,439 v3" stroke="#2D5578" stroke-width="1.05" fill="none"/>
<path d="M366,440.5 h3 M367.5,439 v3" stroke="#2D5578" stroke-width="1.05" fill="none"/>
<path d="M393,451.5 h3 M394.5,450 v3" stroke="#2D5578" stroke-width="1.05" fill="none"/>
<path d="M405,465.5 h3 M406.5,464 v3" stroke="#2D5578" stroke-width="1.05" fill="none"/>
<path d="M413,465.5 h3 M414.5,464 v3" stroke="#2D5578" stroke-width="1.05" fill="none"/>
<path d="M432,465.5 h3 M433.5,464 v3" stroke="#2D5578" stroke-width="1.05" fill="none"/>
<path d="M501,465.5 h3 M502.5,464 v3" stroke="#2D5578" stroke-width="1.05" fill="none"/>
<path d="M304.9,350.5 V526.7 H513.1" stroke="#000" stroke-width="1.4" fill="none"/>
<path d="M313.4,526.7 v3.3" stroke="#222" stroke-width="0.9"/>
<text x="313.4" y="538.6" font-size="6.7" fill="#333" text-anchor="middle" font-weight="normal" class="t">0</text>
<path d="M327.67,526.7 v3.3" stroke="#222" stroke-width="0.9"/>
<text x="327.67" y="538.6" font-size="6.7" fill="#333" text-anchor="middle" font-weight="normal" class="t">3</text>
<path d="M341.94,526.7 v3.3" stroke="#222" stroke-width="0.9"/>
<text x="341.94" y="538.6" font-size="6.7" fill="#333" text-anchor="middle" font-weight="normal" class="t">6</text>
<path d="M356.2,526.7 v3.3" stroke="#222" stroke-width="0.9"/>
<text x="356.2" y="538.6" font-size="6.7" fill="#333" text-anchor="middle" font-weight="normal" class="t">9</text>
<path d="M370.47,526.7 v3.3" stroke="#222" stroke-width="0.9"/>
<text x="370.47" y="538.6" font-size="6.7" fill="#333" text-anchor="middle" font-weight="normal" class="t">12</text>
<path d="M384.74,526.7 v3.3" stroke="#222" stroke-width="0.9"/>
<text x="384.74" y="538.6" font-size="6.7" fill="#333" text-anchor="middle" font-weight="normal" class="t">15</text>
<path d="M399.01,526.7 v3.3" stroke="#222" stroke-width="0.9"/>
<text x="399.01" y="538.6" font-size="6.7" fill="#333" text-anchor="middle" font-weight="normal" class="t">18</text>
<path d="M413.28,526.7 v3.3" stroke="#222" stroke-width="0.9"/>
<text x="413.28" y="538.6" font-size="6.7" fill="#333" text-anchor="middle" font-weight="normal" class="t">21</text>
<path d="M427.54,526.7 v3.3" stroke="#222" stroke-width="0.9"/>
<text x="427.54" y="538.6" font-size="6.7" fill="#333" text-anchor="middle" font-weight="normal" class="t">24</text>
<path d="M441.81,526.7 v3.3" stroke="#222" stroke-width="0.9"/>
<text x="441.81" y="538.6" font-size="6.7" fill="#333" text-anchor="middle" font-weight="normal" class="t">27</text>
<path d="M456.08,526.7 v3.3" stroke="#222" stroke-width="0.9"/>
<text x="456.08" y="538.6" font-size="6.7" fill="#333" text-anchor="middle" font-weight="normal" class="t">30</text>
<path d="M470.35,526.7 v3.3" stroke="#222" stroke-width="0.9"/>
<text x="470.35" y="538.6" font-size="6.7" fill="#333" text-anchor="middle" font-weight="normal" class="t">33</text>
<path d="M484.62,526.7 v3.3" stroke="#222" stroke-width="0.9"/>
<text x="484.62" y="538.6" font-size="6.7" fill="#333" text-anchor="middle" font-weight="normal" class="t">36</text>
<path d="M498.88,526.7 v3.3" stroke="#222" stroke-width="0.9"/>
<text x="498.88" y="538.6" font-size="6.7" fill="#333" text-anchor="middle" font-weight="normal" class="t">39</text>
<path d="M304.9,518.8 h-2.8" stroke="#222" stroke-width="0.9"/>
<text x="299.4" y="521.2" font-size="6.7" fill="#333" text-anchor="end" font-weight="normal" class="t">0%</text>
<path d="M304.9,478.67 h-2.8" stroke="#222" stroke-width="0.9"/>
<text x="299.4" y="481.07" font-size="6.7" fill="#333" text-anchor="end" font-weight="normal" class="t">25%</text>
<path d="M304.9,438.55 h-2.8" stroke="#222" stroke-width="0.9"/>
<text x="299.4" y="440.95" font-size="6.7" fill="#333" text-anchor="end" font-weight="normal" class="t">50%</text>
<path d="M304.9,398.43 h-2.8" stroke="#222" stroke-width="0.9"/>
<text x="299.4" y="400.82" font-size="6.7" fill="#333" text-anchor="end" font-weight="normal" class="t">75%</text>
<path d="M304.9,358.3 h-2.8" stroke="#222" stroke-width="0.9"/>
<text x="299.4" y="360.7" font-size="6.7" fill="#333" text-anchor="end" font-weight="normal" class="t">100%</text>
<text x="409" y="550.4" font-size="8.4" fill="#222" text-anchor="middle" font-weight="normal" textLength="38.4" lengthAdjust="spacingAndGlyphs" stroke="#1a1a1a" stroke-width="0.36">Time (months)</text>
<text x="0" y="0" font-size="8" fill="#1a1a1a" stroke="#1a1a1a" stroke-width="0.38" text-anchor="middle" font-weight="normal" textLength="39.6" lengthAdjust="spacingAndGlyphs" transform="translate(276.4,438.3) rotate(-90)">EFS probability</text>
<text x="269.9" y="344.3" font-size="11.8" fill="#000" text-anchor="start" font-weight="bold" stroke="#000" stroke-width="0.45">D</text>
<text x="351.2" y="346" font-size="6.5" fill="#111" text-anchor="start" font-weight="normal" textLength="61.5" lengthAdjust="spacingAndGlyphs">Associated treatement</text>
<path d="M422.3,343.8 h6.4" stroke="#AE3A58" stroke-width="1"/>
<path d="M424,343.5 h3 M425.5,342 v3" stroke="#AE3A58" stroke-width="1.05" fill="none"/>
<text x="431.2" y="346" font-size="6.5" fill="#111" text-anchor="start" font-weight="normal">No</text>
<path d="M447.8,343.8 h6.4" stroke="#2D5578" stroke-width="1"/>
<path d="M450,343.5 h3 M451.5,342 v3" stroke="#2D5578" stroke-width="1.05" fill="none"/>
<text x="457.5" y="346" font-size="6.5" fill="#111" text-anchor="start" font-weight="normal">Yes</text>
<text x="319" y="490.6" font-size="6.3" fill="#222" text-anchor="start" font-weight="bold"><tspan font-style="italic">P</tspan> = .042</text>
<path d="M305.3,572.7 V618.4 H513.1" stroke="#000" stroke-width="1.4" fill="none"/>
<path d="M313.4,618.4 v3.3" stroke="#222" stroke-width="0.9"/>
<text x="313.4" y="631.1" font-size="6.7" fill="#333" text-anchor="middle" font-weight="normal" class="t">0</text>
<path d="M327.67,618.4 v3.3" stroke="#222" stroke-width="0.9"/>
<text x="327.67" y="631.1" font-size="6.7" fill="#333" text-anchor="middle" font-weight="normal" class="t">3</text>
<path d="M341.94,618.4 v3.3" stroke="#222" stroke-width="0.9"/>
<text x="341.94" y="631.1" font-size="6.7" fill="#333" text-anchor="middle" font-weight="normal" class="t">6</text>
<path d="M356.2,618.4 v3.3" stroke="#222" stroke-width="0.9"/>
<text x="356.2" y="631.1" font-size="6.7" fill="#333" text-anchor="middle" font-weight="normal" class="t">9</text>
<path d="M370.47,618.4 v3.3" stroke="#222" stroke-width="0.9"/>
<text x="370.47" y="631.1" font-size="6.7" fill="#333" text-anchor="middle" font-weight="normal" class="t">12</text>
<path d="M384.74,618.4 v3.3" stroke="#222" stroke-width="0.9"/>
<text x="384.74" y="631.1" font-size="6.7" fill="#333" text-anchor="middle" font-weight="normal" class="t">15</text>
<path d="M399.01,618.4 v3.3" stroke="#222" stroke-width="0.9"/>
<text x="399.01" y="631.1" font-size="6.7" fill="#333" text-anchor="middle" font-weight="normal" class="t">18</text>
<path d="M413.28,618.4 v3.3" stroke="#222" stroke-width="0.9"/>
<text x="413.28" y="631.1" font-size="6.7" fill="#333" text-anchor="middle" font-weight="normal" class="t">21</text>
<path d="M427.54,618.4 v3.3" stroke="#222" stroke-width="0.9"/>
<text x="427.54" y="631.1" font-size="6.7" fill="#333" text-anchor="middle" font-weight="normal" class="t">24</text>
<path d="M441.81,618.4 v3.3" stroke="#222" stroke-width="0.9"/>
<text x="441.81" y="631.1" font-size="6.7" fill="#333" text-anchor="middle" font-weight="normal" class="t">27</text>
<path d="M456.08,618.4 v3.3" stroke="#222" stroke-width="0.9"/>
<text x="456.08" y="631.1" font-size="6.7" fill="#333" text-anchor="middle" font-weight="normal" class="t">30</text>
<path d="M470.35,618.4 v3.3" stroke="#222" stroke-width="0.9"/>
<text x="470.35" y="631.1" font-size="6.7" fill="#333" text-anchor="middle" font-weight="normal" class="t">33</text>
<path d="M484.62,618.4 v3.3" stroke="#222" stroke-width="0.9"/>
<text x="484.62" y="631.1" font-size="6.7" fill="#333" text-anchor="middle" font-weight="normal" class="t">36</text>
<path d="M498.88,618.4 v3.3" stroke="#222" stroke-width="0.9"/>
<text x="498.88" y="631.1" font-size="6.7" fill="#333" text-anchor="middle" font-weight="normal" class="t">39</text>
<path d="M305.3,586.5 h-2.8" stroke="#222" stroke-width="0.9"/>
<text x="299.8" y="588.9" font-size="6.7" fill="#C0405E" text-anchor="end" font-weight="normal">No</text>
<text x="313.4" y="588.9" font-size="6.7" fill="#111" text-anchor="middle" font-weight="normal" class="t">17</text>
<text x="327.67" y="588.9" font-size="6.7" fill="#111" text-anchor="middle" font-weight="normal" class="t">10</text>
<text x="341.94" y="588.9" font-size="6.7" fill="#111" text-anchor="middle" font-weight="normal" class="t">4</text>
<text x="356.2" y="588.9" font-size="6.7" fill="#111" text-anchor="middle" font-weight="normal" class="t">2</text>
<text x="370.47" y="588.9" font-size="6.7" fill="#111" text-anchor="middle" font-weight="normal" class="t">1</text>
<text x="384.74" y="588.9" font-size="6.7" fill="#111" text-anchor="middle" font-weight="normal" class="t">1</text>
<text x="399.01" y="588.9" font-size="6.7" fill="#111" text-anchor="middle" font-weight="normal" class="t">0</text>
<text x="413.28" y="588.9" font-size="6.7" fill="#111" text-anchor="middle" font-weight="normal" class="t">0</text>
<text x="427.54" y="588.9" font-size="6.7" fill="#111" text-anchor="middle" font-weight="normal" class="t">0</text>
<text x="441.81" y="588.9" font-size="6.7" fill="#111" text-anchor="middle" font-weight="normal" class="t">0</text>
<text x="456.08" y="588.9" font-size="6.7" fill="#111" text-anchor="middle" font-weight="normal" class="t">0</text>
<text x="470.35" y="588.9" font-size="6.7" fill="#111" text-anchor="middle" font-weight="normal" class="t">0</text>
<text x="484.62" y="588.9" font-size="6.7" fill="#111" text-anchor="middle" font-weight="normal" class="t">0</text>
<text x="498.88" y="588.9" font-size="6.7" fill="#111" text-anchor="middle" font-weight="normal" class="t">0</text>
<path d="M305.3,607.6 h-2.8" stroke="#222" stroke-width="0.9"/>
<text x="299.8" y="610" font-size="6.7" fill="#4A78A8" text-anchor="end" font-weight="normal">Yes</text>
<text x="313.4" y="610" font-size="6.7" fill="#111" text-anchor="middle" font-weight="normal" class="t">20</text>
<text x="327.67" y="610" font-size="6.7" fill="#111" text-anchor="middle" font-weight="normal" class="t">12</text>
<text x="341.94" y="610" font-size="6.7" fill="#111" text-anchor="middle" font-weight="normal" class="t">11</text>
<text x="356.2" y="610" font-size="6.7" fill="#111" text-anchor="middle" font-weight="normal" class="t">9</text>
<text x="370.47" y="610" font-size="6.7" fill="#111" text-anchor="middle" font-weight="normal" class="t">6</text>
<text x="384.74" y="610" font-size="6.7" fill="#111" text-anchor="middle" font-weight="normal" class="t">6</text>
<text x="399.01" y="610" font-size="6.7" fill="#111" text-anchor="middle" font-weight="normal" class="t">4</text>
<text x="413.28" y="610" font-size="6.7" fill="#111" text-anchor="middle" font-weight="normal" class="t">3</text>
<text x="427.54" y="610" font-size="6.7" fill="#111" text-anchor="middle" font-weight="normal" class="t">2</text>
<text x="441.81" y="610" font-size="6.7" fill="#111" text-anchor="middle" font-weight="normal" class="t">1</text>
<text x="456.08" y="610" font-size="6.7" fill="#111" text-anchor="middle" font-weight="normal" class="t">1</text>
<text x="470.35" y="610" font-size="6.7" fill="#111" text-anchor="middle" font-weight="normal" class="t">1</text>
<text x="484.62" y="610" font-size="6.7" fill="#111" text-anchor="middle" font-weight="normal" class="t">1</text>
<text x="498.88" y="610" font-size="6.7" fill="#111" text-anchor="middle" font-weight="normal" class="t">1</text>
<text x="305" y="567.6" font-size="6.5" fill="#111" text-anchor="start" font-weight="normal" textLength="40" lengthAdjust="spacingAndGlyphs">Number at risk</text>
<text x="409.2" y="641.6" font-size="8.4" fill="#222" text-anchor="middle" font-weight="normal" textLength="38.4" lengthAdjust="spacingAndGlyphs" stroke="#1a1a1a" stroke-width="0.36">Time (months)</text>
<text x="0" y="0" font-size="8" fill="#1a1a1a" stroke="#1a1a1a" stroke-width="0.38" text-anchor="middle" font-weight="normal" textLength="58" lengthAdjust="spacingAndGlyphs" transform="translate(284.5,595) rotate(-90)">Associated treatment</text>
</g>
<rect x="0.5" y="0.5" width="519" height="650" fill="none" stroke="#656565" stroke-width="1"/>
</svg></body></html>
